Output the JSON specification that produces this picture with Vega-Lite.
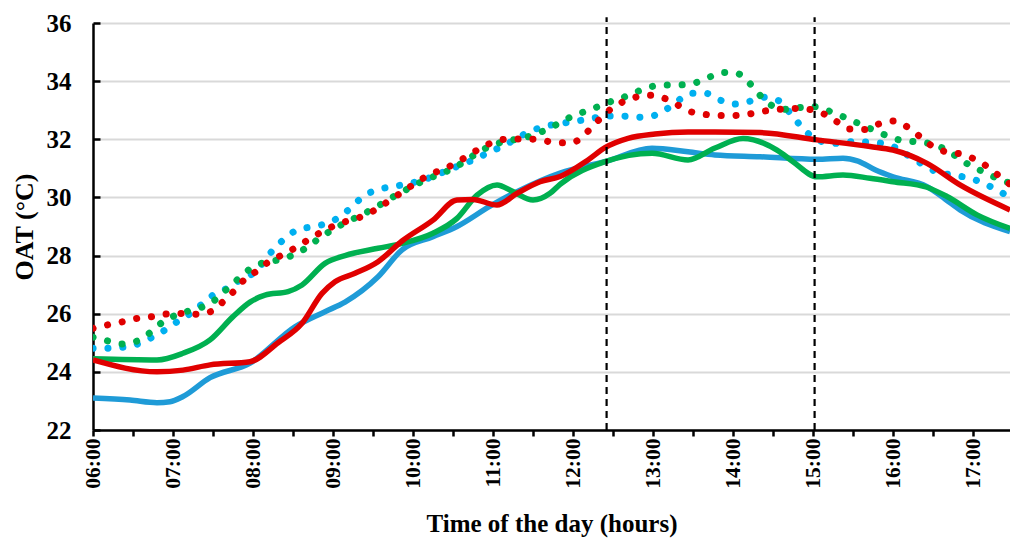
{
  "$schema": "https://vega.github.io/schema/vega-lite/v6.json",
  "width": 917,
  "height": 407,
  "autosize": {"type": "none"},
  "padding": {"left": 93, "top": 23, "right": 0, "bottom": 115},
  "background": "white",
  "config": {
    "view": {"stroke": null},
    "font": "Liberation Serif"
  },
  "datasets": {
    "series": [
      {"series": "S1", "style": "solid", "t": 6.0, "v": 23.10},
      {"series": "S1", "style": "solid", "t": 6.463, "v": 23.03},
      {"series": "S1", "style": "solid", "t": 6.8, "v": 22.94},
      {"series": "S1", "style": "solid", "t": 6.963, "v": 22.97},
      {"series": "S1", "style": "solid", "t": 7.125, "v": 23.15},
      {"series": "S1", "style": "solid", "t": 7.463, "v": 23.8},
      {"series": "S1", "style": "solid", "t": 7.963, "v": 24.3},
      {"series": "S1", "style": "solid", "t": 8.525, "v": 25.55},
      {"series": "S1", "style": "solid", "t": 8.9, "v": 26.07},
      {"series": "S1", "style": "solid", "t": 9.15, "v": 26.4},
      {"series": "S1", "style": "solid", "t": 9.563, "v": 27.27},
      {"series": "S1", "style": "solid", "t": 9.863, "v": 28.2},
      {"series": "S1", "style": "solid", "t": 10.25, "v": 28.65},
      {"series": "S1", "style": "solid", "t": 10.55, "v": 29.0},
      {"series": "S1", "style": "solid", "t": 10.963, "v": 29.7},
      {"series": "S1", "style": "solid", "t": 11.3, "v": 30.2},
      {"series": "S1", "style": "solid", "t": 11.838, "v": 30.84},
      {"series": "S1", "style": "solid", "t": 12.4, "v": 31.23},
      {"series": "S1", "style": "solid", "t": 12.988, "v": 31.69},
      {"series": "S1", "style": "solid", "t": 13.438, "v": 31.57},
      {"series": "S1", "style": "solid", "t": 13.775, "v": 31.46},
      {"series": "S1", "style": "solid", "t": 14.338, "v": 31.4},
      {"series": "S1", "style": "solid", "t": 15.05, "v": 31.31},
      {"series": "S1", "style": "solid", "t": 15.375, "v": 31.35},
      {"series": "S1", "style": "solid", "t": 15.563, "v": 31.25},
      {"series": "S1", "style": "solid", "t": 15.775, "v": 30.95},
      {"series": "S1", "style": "solid", "t": 16.0, "v": 30.71},
      {"series": "S1", "style": "solid", "t": 16.425, "v": 30.37},
      {"series": "S1", "style": "solid", "t": 16.65, "v": 29.95},
      {"series": "S1", "style": "solid", "t": 16.838, "v": 29.57},
      {"series": "S1", "style": "solid", "t": 17.463, "v": 28.82},

      {"series": "S2", "style": "solid", "t": 6.0, "v": 24.45},
      {"series": "S2", "style": "solid", "t": 6.8, "v": 24.41},
      {"series": "S2", "style": "solid", "t": 7.125, "v": 24.64},
      {"series": "S2", "style": "solid", "t": 7.463, "v": 25.1},
      {"series": "S2", "style": "solid", "t": 7.75, "v": 25.9},
      {"series": "S2", "style": "solid", "t": 7.963, "v": 26.4},
      {"series": "S2", "style": "solid", "t": 8.15, "v": 26.64},
      {"series": "S2", "style": "solid", "t": 8.438, "v": 26.76},
      {"series": "S2", "style": "solid", "t": 8.613, "v": 26.99},
      {"series": "S2", "style": "solid", "t": 8.9, "v": 27.73},
      {"series": "S2", "style": "solid", "t": 9.15, "v": 28.0},
      {"series": "S2", "style": "solid", "t": 9.563, "v": 28.25},
      {"series": "S2", "style": "solid", "t": 9.863, "v": 28.42},
      {"series": "S2", "style": "solid", "t": 10.25, "v": 28.77},
      {"series": "S2", "style": "solid", "t": 10.55, "v": 29.28},
      {"series": "S2", "style": "solid", "t": 10.8, "v": 30.08},
      {"series": "S2", "style": "solid", "t": 11.05, "v": 30.43},
      {"series": "S2", "style": "solid", "t": 11.25, "v": 30.2},
      {"series": "S2", "style": "solid", "t": 11.5, "v": 29.91},
      {"series": "S2", "style": "solid", "t": 11.713, "v": 30.14},
      {"series": "S2", "style": "solid", "t": 11.838, "v": 30.45},
      {"series": "S2", "style": "solid", "t": 12.4, "v": 31.23},
      {"series": "S2", "style": "solid", "t": 12.988, "v": 31.52},
      {"series": "S2", "style": "solid", "t": 13.438, "v": 31.29},
      {"series": "S2", "style": "solid", "t": 13.775, "v": 31.7},
      {"series": "S2", "style": "solid", "t": 14.125, "v": 32.03},
      {"series": "S2", "style": "solid", "t": 14.55, "v": 31.63},
      {"series": "S2", "style": "solid", "t": 14.75, "v": 31.23},
      {"series": "S2", "style": "solid", "t": 15.05, "v": 30.71},
      {"series": "S2", "style": "solid", "t": 15.375, "v": 30.77},
      {"series": "S2", "style": "solid", "t": 15.713, "v": 30.66},
      {"series": "S2", "style": "solid", "t": 16.0, "v": 30.54},
      {"series": "S2", "style": "solid", "t": 16.425, "v": 30.35},
      {"series": "S2", "style": "solid", "t": 16.675, "v": 30.03},
      {"series": "S2", "style": "solid", "t": 17.05, "v": 29.4},
      {"series": "S2", "style": "solid", "t": 17.463, "v": 28.93},

      {"series": "S3", "style": "solid", "t": 6.0, "v": 24.41},
      {"series": "S3", "style": "solid", "t": 6.8, "v": 24.0},
      {"series": "S3", "style": "solid", "t": 7.125, "v": 24.06},
      {"series": "S3", "style": "solid", "t": 7.463, "v": 24.24},
      {"series": "S3", "style": "solid", "t": 7.963, "v": 24.35},
      {"series": "S3", "style": "solid", "t": 8.313, "v": 25.0},
      {"series": "S3", "style": "solid", "t": 8.613, "v": 25.67},
      {"series": "S3", "style": "solid", "t": 8.863, "v": 26.7},
      {"series": "S3", "style": "solid", "t": 9.025, "v": 27.1},
      {"series": "S3", "style": "solid", "t": 9.275, "v": 27.39},
      {"series": "S3", "style": "solid", "t": 9.563, "v": 27.79},
      {"series": "S3", "style": "solid", "t": 9.863, "v": 28.5},
      {"series": "S3", "style": "solid", "t": 10.25, "v": 29.22},
      {"series": "S3", "style": "solid", "t": 10.55, "v": 29.91},
      {"series": "S3", "style": "solid", "t": 10.75, "v": 29.93},
      {"series": "S3", "style": "solid", "t": 11.05, "v": 29.74},
      {"series": "S3", "style": "solid", "t": 11.3, "v": 30.14},
      {"series": "S3", "style": "solid", "t": 11.588, "v": 30.54},
      {"series": "S3", "style": "solid", "t": 11.838, "v": 30.72},
      {"series": "S3", "style": "solid", "t": 12.188, "v": 31.29},
      {"series": "S3", "style": "solid", "t": 12.4, "v": 31.71},
      {"series": "S3", "style": "solid", "t": 12.688, "v": 32.03},
      {"series": "S3", "style": "solid", "t": 13.025, "v": 32.18},
      {"series": "S3", "style": "solid", "t": 13.438, "v": 32.25},
      {"series": "S3", "style": "solid", "t": 13.775, "v": 32.25},
      {"series": "S3", "style": "solid", "t": 14.338, "v": 32.23},
      {"series": "S3", "style": "solid", "t": 15.05, "v": 31.98},
      {"series": "S3", "style": "solid", "t": 15.713, "v": 31.75},
      {"series": "S3", "style": "solid", "t": 16.0, "v": 31.63},
      {"series": "S3", "style": "solid", "t": 16.425, "v": 31.17},
      {"series": "S3", "style": "solid", "t": 16.838, "v": 30.43},
      {"series": "S3", "style": "solid", "t": 17.463, "v": 29.57},

      {"series": "D1", "style": "dotted", "t": 6.0, "v": 24.81},
      {"series": "D1", "style": "dotted", "t": 6.175, "v": 24.81},
      {"series": "D1", "style": "dotted", "t": 6.375, "v": 24.85},
      {"series": "D1", "style": "dotted", "t": 6.55, "v": 24.95},
      {"series": "D1", "style": "dotted", "t": 6.713, "v": 25.15},
      {"series": "D1", "style": "dotted", "t": 6.9, "v": 25.44},
      {"series": "D1", "style": "dotted", "t": 7.05, "v": 25.72},
      {"series": "D1", "style": "dotted", "t": 7.213, "v": 26.0},
      {"series": "D1", "style": "dotted", "t": 7.363, "v": 26.33},
      {"series": "D1", "style": "dotted", "t": 7.5, "v": 26.64},
      {"series": "D1", "style": "dotted", "t": 7.675, "v": 26.87},
      {"series": "D1", "style": "dotted", "t": 7.838, "v": 27.16},
      {"series": "D1", "style": "dotted", "t": 8.025, "v": 27.44},
      {"series": "D1", "style": "dotted", "t": 8.25, "v": 28.19},
      {"series": "D1", "style": "dotted", "t": 8.4, "v": 28.59},
      {"series": "D1", "style": "dotted", "t": 8.55, "v": 28.88},
      {"series": "D1", "style": "dotted", "t": 8.738, "v": 28.99},
      {"series": "D1", "style": "dotted", "t": 8.925, "v": 29.11},
      {"series": "D1", "style": "dotted", "t": 9.088, "v": 29.34},
      {"series": "D1", "style": "dotted", "t": 9.238, "v": 29.68},
      {"series": "D1", "style": "dotted", "t": 9.375, "v": 30.03},
      {"series": "D1", "style": "dotted", "t": 9.55, "v": 30.26},
      {"series": "D1", "style": "dotted", "t": 9.738, "v": 30.37},
      {"series": "D1", "style": "dotted", "t": 9.9, "v": 30.45},
      {"series": "D1", "style": "dotted", "t": 10.125, "v": 30.6},
      {"series": "D1", "style": "dotted", "t": 10.463, "v": 30.97},
      {"series": "D1", "style": "dotted", "t": 10.8, "v": 31.35},
      {"series": "D1", "style": "dotted", "t": 10.963, "v": 31.57},
      {"series": "D1", "style": "dotted", "t": 11.15, "v": 31.8},
      {"series": "D1", "style": "dotted", "t": 11.313, "v": 32.06},
      {"series": "D1", "style": "dotted", "t": 11.488, "v": 32.3},
      {"series": "D1", "style": "dotted", "t": 11.675, "v": 32.46},
      {"series": "D1", "style": "dotted", "t": 11.863, "v": 32.55},
      {"series": "D1", "style": "dotted", "t": 12.05, "v": 32.63},
      {"series": "D1", "style": "dotted", "t": 12.238, "v": 32.72},
      {"series": "D1", "style": "dotted", "t": 12.425, "v": 32.8},
      {"series": "D1", "style": "dotted", "t": 12.613, "v": 32.8},
      {"series": "D1", "style": "dotted", "t": 12.8, "v": 32.76},
      {"series": "D1", "style": "dotted", "t": 12.988, "v": 32.8},
      {"series": "D1", "style": "dotted", "t": 13.15, "v": 33.0},
      {"series": "D1", "style": "dotted", "t": 13.313, "v": 33.33},
      {"series": "D1", "style": "dotted", "t": 13.475, "v": 33.58},
      {"series": "D1", "style": "dotted", "t": 13.663, "v": 33.58},
      {"series": "D1", "style": "dotted", "t": 13.838, "v": 33.35},
      {"series": "D1", "style": "dotted", "t": 14.013, "v": 33.21},
      {"series": "D1", "style": "dotted", "t": 14.2, "v": 33.3},
      {"series": "D1", "style": "dotted", "t": 14.388, "v": 33.45},
      {"series": "D1", "style": "dotted", "t": 14.563, "v": 33.34},
      {"series": "D1", "style": "dotted", "t": 14.7, "v": 32.95},
      {"series": "D1", "style": "dotted", "t": 14.813, "v": 32.57},
      {"series": "D1", "style": "dotted", "t": 14.938, "v": 32.2},
      {"series": "D1", "style": "dotted", "t": 15.113, "v": 31.92},
      {"series": "D1", "style": "dotted", "t": 15.3, "v": 31.86},
      {"series": "D1", "style": "dotted", "t": 15.488, "v": 31.92},
      {"series": "D1", "style": "dotted", "t": 15.675, "v": 31.9},
      {"series": "D1", "style": "dotted", "t": 15.863, "v": 31.86},
      {"series": "D1", "style": "dotted", "t": 16.05, "v": 31.69},
      {"series": "D1", "style": "dotted", "t": 16.213, "v": 31.4},
      {"series": "D1", "style": "dotted", "t": 16.363, "v": 31.15},
      {"series": "D1", "style": "dotted", "t": 16.538, "v": 30.89},
      {"series": "D1", "style": "dotted", "t": 16.738, "v": 30.77},
      {"series": "D1", "style": "dotted", "t": 16.913, "v": 30.69},
      {"series": "D1", "style": "dotted", "t": 17.088, "v": 30.54},
      {"series": "D1", "style": "dotted", "t": 17.263, "v": 30.31},
      {"series": "D1", "style": "dotted", "t": 17.463, "v": 30.0},

      {"series": "D2", "style": "dotted", "t": 6.0, "v": 25.19},
      {"series": "D2", "style": "dotted", "t": 6.175, "v": 25.07},
      {"series": "D2", "style": "dotted", "t": 6.363, "v": 24.96},
      {"series": "D2", "style": "dotted", "t": 6.55, "v": 25.06},
      {"series": "D2", "style": "dotted", "t": 6.7, "v": 25.32},
      {"series": "D2", "style": "dotted", "t": 6.85, "v": 25.67},
      {"series": "D2", "style": "dotted", "t": 7.013, "v": 25.92},
      {"series": "D2", "style": "dotted", "t": 7.188, "v": 26.09},
      {"series": "D2", "style": "dotted", "t": 7.375, "v": 26.24},
      {"series": "D2", "style": "dotted", "t": 7.538, "v": 26.5},
      {"series": "D2", "style": "dotted", "t": 7.675, "v": 26.85},
      {"series": "D2", "style": "dotted", "t": 7.813, "v": 27.19},
      {"series": "D2", "style": "dotted", "t": 7.963, "v": 27.54},
      {"series": "D2", "style": "dotted", "t": 8.125, "v": 27.75},
      {"series": "D2", "style": "dotted", "t": 8.313, "v": 27.85},
      {"series": "D2", "style": "dotted", "t": 8.5, "v": 28.02},
      {"series": "D2", "style": "dotted", "t": 8.675, "v": 28.28},
      {"series": "D2", "style": "dotted", "t": 8.825, "v": 28.59},
      {"series": "D2", "style": "dotted", "t": 8.988, "v": 28.88},
      {"series": "D2", "style": "dotted", "t": 9.138, "v": 29.11},
      {"series": "D2", "style": "dotted", "t": 9.313, "v": 29.34},
      {"series": "D2", "style": "dotted", "t": 9.488, "v": 29.59},
      {"series": "D2", "style": "dotted", "t": 9.65, "v": 29.85},
      {"series": "D2", "style": "dotted", "t": 9.813, "v": 30.12},
      {"series": "D2", "style": "dotted", "t": 9.988, "v": 30.37},
      {"series": "D2", "style": "dotted", "t": 10.15, "v": 30.6},
      {"series": "D2", "style": "dotted", "t": 10.325, "v": 30.79},
      {"series": "D2", "style": "dotted", "t": 10.5, "v": 31.0},
      {"series": "D2", "style": "dotted", "t": 10.675, "v": 31.29},
      {"series": "D2", "style": "dotted", "t": 10.825, "v": 31.57},
      {"series": "D2", "style": "dotted", "t": 11.0, "v": 31.8},
      {"series": "D2", "style": "dotted", "t": 11.175, "v": 31.95},
      {"series": "D2", "style": "dotted", "t": 11.363, "v": 32.03},
      {"series": "D2", "style": "dotted", "t": 11.55, "v": 32.2},
      {"series": "D2", "style": "dotted", "t": 11.725, "v": 32.4},
      {"series": "D2", "style": "dotted", "t": 11.875, "v": 32.64},
      {"series": "D2", "style": "dotted", "t": 12.063, "v": 32.87},
      {"series": "D2", "style": "dotted", "t": 12.238, "v": 33.04},
      {"series": "D2", "style": "dotted", "t": 12.413, "v": 33.24},
      {"series": "D2", "style": "dotted", "t": 12.6, "v": 33.41},
      {"series": "D2", "style": "dotted", "t": 12.775, "v": 33.61},
      {"series": "D2", "style": "dotted", "t": 12.95, "v": 33.79},
      {"series": "D2", "style": "dotted", "t": 13.138, "v": 33.87},
      {"series": "D2", "style": "dotted", "t": 13.325, "v": 33.87},
      {"series": "D2", "style": "dotted", "t": 13.513, "v": 33.93},
      {"series": "D2", "style": "dotted", "t": 13.688, "v": 34.12},
      {"series": "D2", "style": "dotted", "t": 13.875, "v": 34.3},
      {"series": "D2", "style": "dotted", "t": 14.05, "v": 34.27},
      {"series": "D2", "style": "dotted", "t": 14.2, "v": 33.95},
      {"series": "D2", "style": "dotted", "t": 14.325, "v": 33.55},
      {"series": "D2", "style": "dotted", "t": 14.463, "v": 33.2},
      {"series": "D2", "style": "dotted", "t": 14.65, "v": 33.03},
      {"series": "D2", "style": "dotted", "t": 14.825, "v": 33.09},
      {"series": "D2", "style": "dotted", "t": 15.025, "v": 33.12},
      {"series": "D2", "style": "dotted", "t": 15.2, "v": 32.97},
      {"series": "D2", "style": "dotted", "t": 15.375, "v": 32.78},
      {"series": "D2", "style": "dotted", "t": 15.55, "v": 32.57},
      {"series": "D2", "style": "dotted", "t": 15.738, "v": 32.34},
      {"series": "D2", "style": "dotted", "t": 15.9, "v": 32.15},
      {"series": "D2", "style": "dotted", "t": 16.075, "v": 31.98},
      {"series": "D2", "style": "dotted", "t": 16.263, "v": 31.92},
      {"series": "D2", "style": "dotted", "t": 16.45, "v": 31.86},
      {"series": "D2", "style": "dotted", "t": 16.625, "v": 31.69},
      {"series": "D2", "style": "dotted", "t": 16.8, "v": 31.4},
      {"series": "D2", "style": "dotted", "t": 16.95, "v": 31.12},
      {"series": "D2", "style": "dotted", "t": 17.125, "v": 30.89},
      {"series": "D2", "style": "dotted", "t": 17.3, "v": 30.66},
      {"series": "D2", "style": "dotted", "t": 17.463, "v": 30.49},

      {"series": "D3", "style": "dotted", "t": 6.0, "v": 25.5},
      {"series": "D3", "style": "dotted", "t": 6.175, "v": 25.61},
      {"series": "D3", "style": "dotted", "t": 6.363, "v": 25.72},
      {"series": "D3", "style": "dotted", "t": 6.55, "v": 25.84},
      {"series": "D3", "style": "dotted", "t": 6.738, "v": 25.9},
      {"series": "D3", "style": "dotted", "t": 6.925, "v": 25.99},
      {"series": "D3", "style": "dotted", "t": 7.113, "v": 26.01},
      {"series": "D3", "style": "dotted", "t": 7.3, "v": 25.98},
      {"series": "D3", "style": "dotted", "t": 7.488, "v": 26.09},
      {"series": "D3", "style": "dotted", "t": 7.625, "v": 26.41},
      {"series": "D3", "style": "dotted", "t": 7.763, "v": 26.78},
      {"series": "D3", "style": "dotted", "t": 7.888, "v": 27.16},
      {"series": "D3", "style": "dotted", "t": 8.038, "v": 27.45},
      {"series": "D3", "style": "dotted", "t": 8.188, "v": 27.77},
      {"series": "D3", "style": "dotted", "t": 8.363, "v": 28.02},
      {"series": "D3", "style": "dotted", "t": 8.538, "v": 28.28},
      {"series": "D3", "style": "dotted", "t": 8.7, "v": 28.56},
      {"series": "D3", "style": "dotted", "t": 8.863, "v": 28.82},
      {"series": "D3", "style": "dotted", "t": 9.038, "v": 29.05},
      {"series": "D3", "style": "dotted", "t": 9.213, "v": 29.22},
      {"series": "D3", "style": "dotted", "t": 9.388, "v": 29.37},
      {"series": "D3", "style": "dotted", "t": 9.563, "v": 29.63},
      {"series": "D3", "style": "dotted", "t": 9.713, "v": 29.91},
      {"series": "D3", "style": "dotted", "t": 9.875, "v": 30.2},
      {"series": "D3", "style": "dotted", "t": 10.025, "v": 30.48},
      {"series": "D3", "style": "dotted", "t": 10.2, "v": 30.77},
      {"series": "D3", "style": "dotted", "t": 10.375, "v": 30.97},
      {"series": "D3", "style": "dotted", "t": 10.55, "v": 31.2},
      {"series": "D3", "style": "dotted", "t": 10.7, "v": 31.46},
      {"series": "D3", "style": "dotted", "t": 10.863, "v": 31.72},
      {"series": "D3", "style": "dotted", "t": 11.038, "v": 31.94},
      {"series": "D3", "style": "dotted", "t": 11.225, "v": 32.01},
      {"series": "D3", "style": "dotted", "t": 11.413, "v": 32.01},
      {"series": "D3", "style": "dotted", "t": 11.6, "v": 31.98},
      {"series": "D3", "style": "dotted", "t": 11.788, "v": 31.88},
      {"series": "D3", "style": "dotted", "t": 11.988, "v": 31.88},
      {"series": "D3", "style": "dotted", "t": 12.138, "v": 32.15},
      {"series": "D3", "style": "dotted", "t": 12.275, "v": 32.53},
      {"series": "D3", "style": "dotted", "t": 12.413, "v": 32.91},
      {"series": "D3", "style": "dotted", "t": 12.563, "v": 33.2},
      {"series": "D3", "style": "dotted", "t": 12.738, "v": 33.41},
      {"series": "D3", "style": "dotted", "t": 12.925, "v": 33.52},
      {"series": "D3", "style": "dotted", "t": 13.113, "v": 33.44},
      {"series": "D3", "style": "dotted", "t": 13.288, "v": 33.21},
      {"series": "D3", "style": "dotted", "t": 13.45, "v": 32.97},
      {"series": "D3", "style": "dotted", "t": 13.638, "v": 32.86},
      {"series": "D3", "style": "dotted", "t": 13.825, "v": 32.82},
      {"series": "D3", "style": "dotted", "t": 14.013, "v": 32.82},
      {"series": "D3", "style": "dotted", "t": 14.2, "v": 32.87},
      {"series": "D3", "style": "dotted", "t": 14.388, "v": 32.97},
      {"series": "D3", "style": "dotted", "t": 14.575, "v": 33.03},
      {"series": "D3", "style": "dotted", "t": 14.763, "v": 33.06},
      {"series": "D3", "style": "dotted", "t": 14.95, "v": 33.03},
      {"series": "D3", "style": "dotted", "t": 15.138, "v": 32.87},
      {"series": "D3", "style": "dotted", "t": 15.3, "v": 32.6},
      {"series": "D3", "style": "dotted", "t": 15.463, "v": 32.35},
      {"series": "D3", "style": "dotted", "t": 15.65, "v": 32.34},
      {"series": "D3", "style": "dotted", "t": 15.825, "v": 32.53},
      {"series": "D3", "style": "dotted", "t": 16.013, "v": 32.63},
      {"series": "D3", "style": "dotted", "t": 16.188, "v": 32.41},
      {"series": "D3", "style": "dotted", "t": 16.338, "v": 32.09},
      {"series": "D3", "style": "dotted", "t": 16.488, "v": 31.77},
      {"series": "D3", "style": "dotted", "t": 16.663, "v": 31.57},
      {"series": "D3", "style": "dotted", "t": 16.85, "v": 31.49},
      {"series": "D3", "style": "dotted", "t": 17.025, "v": 31.31},
      {"series": "D3", "style": "dotted", "t": 17.188, "v": 31.04},
      {"series": "D3", "style": "dotted", "t": 17.338, "v": 30.71},
      {"series": "D3", "style": "dotted", "t": 17.463, "v": 30.45}
    ],
    "markers": [
      {"t": 12.42},
      {"t": 15.02}
    ]
  },
  "layer": [
    {
      "data": {"name": "series"},
      "transform": [{"filter": "datum.style === 'dotted'"}],
      "mark": {"type": "line", "interpolate": "monotone", "strokeWidth": 7, "strokeDash": [0.1, 14.8], "strokeCap": "round", "clip": true},
      "encoding": {
        "x": {
          "field": "t", "type": "quantitative",
          "scale": {"domain": [6, 17.4625], "nice": false, "zero": false},
          "axis": {
            "title": "Time of the day (hours)",
            "values": [6, 6.5, 7, 7.5, 8, 8.5, 9, 9.5, 10, 10.5, 11, 11.5, 12, 12.5, 13, 13.5, 14, 14.5, 15, 15.5, 16, 16.5, 17],
            "labelExpr": "datum.value % 1 === 0 ? (datum.value < 10 ? '0' : '') + datum.value + ':00' : ''",
            "labelAngle": -90,
            "labelOverlap": false,
            "labelFont": "Liberation Serif", "labelFontWeight": "bold", "labelFontSize": 21.5, "labelColor": "black",
            "labelPadding": 2,
            "grid": false,
            "domainColor": "black", "domainWidth": 2.5,
            "tickColor": "black", "tickWidth": 2.5, "tickSize": 6,
            "titleFont": "Liberation Serif", "titleFontWeight": "bold", "titleFontSize": 25, "titleColor": "black",
            "titlePadding": 23
          }
        },
        "y": {
          "field": "v", "type": "quantitative",
          "scale": {"domain": [22, 36], "nice": false, "zero": false},
          "axis": {
            "title": "OAT (°C)",
            "values": [22, 24, 26, 28, 30, 32, 34, 36],
            "labelFont": "Liberation Serif", "labelFontWeight": "bold", "labelFontSize": 25, "labelColor": "black",
            "labelPadding": 29,
            "grid": true, "gridColor": "#D9D9D9", "gridWidth": 2,
            "domainColor": "black", "domainWidth": 2.5,
            "tickColor": "black", "tickWidth": 2.5, "tickSize": -7,
            "titleFont": "Liberation Serif", "titleFontWeight": "bold", "titleFontSize": 26, "titleColor": "black",
            "titlePadding": 9
          }
        },
        "color": {
          "field": "series", "type": "nominal",
          "scale": {"domain": ["S1", "S2", "S3", "D1", "D2", "D3"], "range": ["#1F9BD7", "#00B050", "#E00000", "#00B0F0", "#00B050", "#E00000"]},
          "legend": null
        },
        "order": {"field": "series"}
      }
    },
    {
      "data": {"name": "series"},
      "transform": [{"filter": "datum.style === 'solid'"}],
      "mark": {"type": "line", "interpolate": "monotone", "strokeWidth": 5.5, "clip": true},
      "encoding": {
        "x": {"field": "t", "type": "quantitative"},
        "y": {"field": "v", "type": "quantitative"},
        "color": {"field": "series", "type": "nominal", "legend": null}
      }
    },
    {
      "data": {"name": "markers"},
      "mark": {"type": "rule", "color": "black", "strokeWidth": 2.2, "strokeDash": [7, 5]},
      "encoding": {
        "x": {"field": "t", "type": "quantitative"},
        "y": {"datum": 22},
        "y2": {"datum": 36.2}
      }
    }
  ]
}
